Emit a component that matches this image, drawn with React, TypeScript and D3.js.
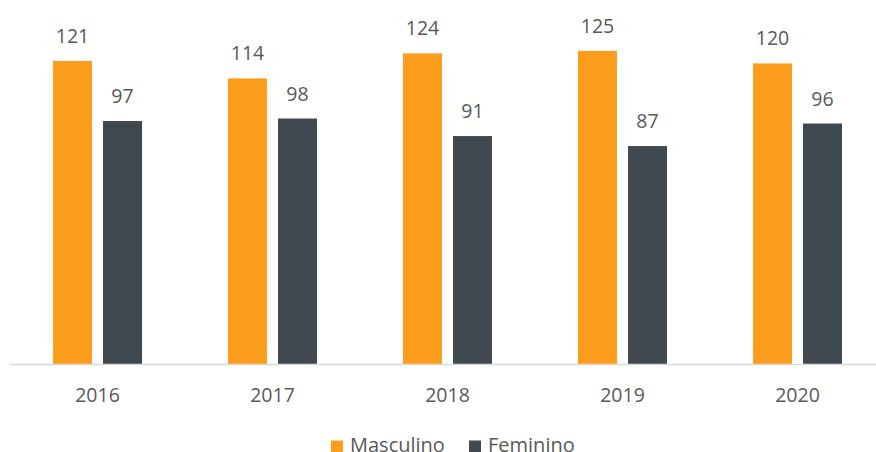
import React from "react";
import * as d3 from "d3";

const years = ["2016", "2017", "2018", "2019", "2020"];
const masculino = [121, 114, 124, 125, 120];
const feminino = [97, 98, 91, 87, 96];
const seriesNames = ["Masculino", "Feminino"];
const colors = ["#FD9D1D", "#414950"];

const W = 876;
const H = 452;
const baseY = 364;

export default function App() {
  const x0 = d3.scaleBand().domain(years).range([10, 885]).paddingInner(0).paddingOuter(0);
  const y = d3.scaleLinear().domain([0, 140]).range([baseY, baseY - 140 * 2.505]);
  const barW = 39;
  const gap = 11;
  const series = [masculino, feminino];
  const font = "'Open Sans', 'Segoe UI', sans-serif";
  return (
    <svg width={W} height={H} style={{ position: "absolute", left: 0, top: 0, background: "#fff" }} fontFamily={font}>
      {years.map((yr, i) => {
        const c = (x0(yr) as number) + x0.bandwidth() / 2;
        return (
          <g key={yr}>
            {series.map((s, j) => {
              const bx = j === 0 ? c - gap / 2 - barW : c + gap / 2;
              const top = y(s[i]);
              return (
                <g key={j}>
                  <rect x={bx} y={top} width={barW} height={baseY - top} fill={colors[j]} />
                  <text x={bx + barW / 2} y={top - 18} textAnchor="middle" fontSize={19.5} fill="#595959">
                    {s[i]}
                  </text>
                </g>
              );
            })}
            <text x={c} y={401.5} textAnchor="middle" fontSize={19.5} fill="#595959">
              {yr}
            </text>
          </g>
        );
      })}
      <line x1={10} x2={876} y1={baseY + 0.5} y2={baseY + 0.5} stroke="#D9D9D9" strokeWidth={1.5} />
      <g>
        <rect x={331} y={440.5} width={12} height={12} fill={colors[0]} />
        <text x={350} y={452} fontSize={20} fill="#595959">{seriesNames[0]}</text>
        <rect x={469} y={440.5} width={12} height={12} fill={colors[1]} />
        <text x={488} y={452} fontSize={20} fill="#595959">{seriesNames[1]}</text>
      </g>
    </svg>
  );
}
